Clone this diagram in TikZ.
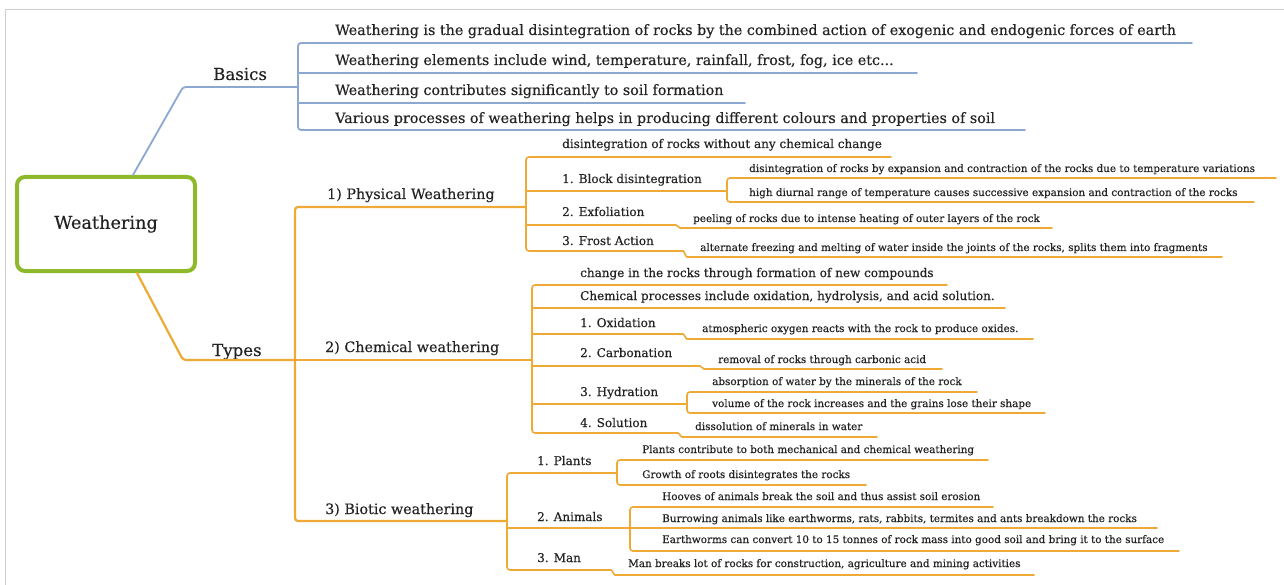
\documentclass[tikz,border=0pt]{standalone}
\usepackage{fontspec}
\setmainfont{DejaVu Serif}[UprightFeatures={FakeBold=0.35}]
\definecolor{txtc}{RGB}{35,35,35}
\definecolor{bluec}{RGB}{140,168,210}
\definecolor{orgc}{RGB}{238,170,52}
\definecolor{greenc}{RGB}{141,185,42}
\definecolor{framec}{RGB}{205,205,205}
% one text item: name, font style, text x, baseline, line start x, line y, line end x, text
\newcommand\mmleaf[8]{%
  \node[txt,#2,anchor=base west] (#1) at (#3,#4) {#8};%
  \coordinate (#1-s) at (#5,#6);%
  \coordinate (#1-e) at (#7,#6);}
\begin{document}
\begin{tikzpicture}[x=1pt,y=-1pt,
  txt/.style={inner sep=0pt,text=txtc},
  fR/.style={font=\fontsize{17.7}{20}\selectfont},
  fL/.style={font=\fontsize{16.6}{20}\selectfont},
  fA/.style={font=\fontsize{14.3}{16}\selectfont},
  fB/.style={font=\fontsize{12}{14}\selectfont},
  fC/.style={font=\fontsize{10.4}{12}\selectfont},
  blu/.style={draw=bluec,line width=1.8pt,rounded corners=3pt,line cap=round},
  bluthin/.style={draw=bluec,line width=1.5pt,line cap=round},
  org/.style={draw=orgc,line width=2.2pt,rounded corners=3pt,line cap=round},
  orl/.style={draw=orgc,line width=1.6pt,rounded corners=3pt,line cap=round},
  rootbox/.style={draw=greenc,line width=4pt,rounded corners=8pt,
    minimum width=178pt,minimum height=94pt,inner sep=0pt,text=txtc}]
\useasboundingbox (0,0) rectangle (1284,585);
\fill[white] (0,0) rectangle (1284,585);
% outer frame
\coordinate (fa) at (5,585);
\coordinate (fb) at (5,10);
\coordinate (fc) at (1284,10);
\draw[framec,line width=1pt] (fa) -- (fb) -- (fc);

% central topic
\node[rootbox,fR] (root) at (106,224) {Weathering};

% ---------------- Basics ----------------
\coordinate (rt) at (133,175);
\coordinate (bk) at (183,87);
\coordinate (bj) at (298,87);
\node[txt,fL,anchor=base west] (basics) at (213,80) {Basics};
\draw[blu] (rt) -- (bk) -- (bj);
\mmleaf{b1}{fA}{335}{35}{298}{43}{1192}{Weathering is the gradual disintegration of rocks by the combined action of exogenic and endogenic forces of earth}
\mmleaf{b2}{fA}{335}{65}{298}{73}{917}{Weathering elements include wind, temperature, rainfall, frost, fog, ice etc...}
\mmleaf{b3}{fA}{335}{95}{298}{103}{745}{Weathering contributes significantly to soil formation}
\mmleaf{b4}{fA}{335}{123}{298}{130}{1025}{Various processes of weathering helps in producing different colours and properties of soil}
\draw[blu] (b1-e) -- (b1-s) -- (b4-s) -- (b4-e);
\draw[bluthin] (b2-s) -- (b2-e);
\draw[bluthin] (b3-s) -- (b3-e);

% ---------------- Types ----------------
\coordinate (rb) at (137,273);
\coordinate (tk) at (183,360);
\coordinate (tj) at (295,360);
\node[txt,fL,anchor=base west] (types) at (212,356) {Types};
\draw[org] (rb) -- (tk) -- (tj);
\mmleaf{phys}{fA}{327}{199}{295}{207}{526}{1) Physical Weathering}
\mmleaf{chem}{fA}{325}{352}{295}{360}{532}{2) Chemical weathering}
\mmleaf{bio}{fA}{325}{514}{295}{521}{507}{3) Biotic weathering}
\draw[org] (phys-e) -- (phys-s) -- (bio-s) -- (bio-e);
\draw[org] (chem-s) -- (chem-e);

% physical weathering
\mmleaf{p0}{fB}{562}{148}{526}{157}{891}{disintegration of rocks without any chemical change}
\mmleaf{p1}{fB}{562}{183}{526}{191}{727}{1. Block disintegration}
\mmleaf{p2}{fB}{562}{216}{526}{225}{673}{2. Exfoliation}
\mmleaf{p3}{fB}{562}{245}{526}{251}{680}{3. Frost Action}
\mmleaf{p1a}{fC}{749}{172}{727}{178}{1276}{disintegration of rocks by expansion and contraction of the rocks due to temperature variations}
\mmleaf{p1b}{fC}{749}{196}{727}{202}{1254}{high diurnal range of temperature causes successive expansion and contraction of the rocks}
\mmleaf{p2a}{fC}{693}{222}{683}{228}{1052}{peeling of rocks due to intense heating of outer layers of the rock}
\mmleaf{p3a}{fC}{700}{251}{690}{257}{1222}{alternate freezing and melting of water inside the joints of the rocks, splits them into fragments}
\draw[orl] (p0-e) -- (p0-s) -- (p3-s) -- (p3-e) to[out=0,in=180] (p3a-s) -- (p3a-e);
\draw[orl] (p1-s) -- (p1-e);
\draw[orl] (p1a-e) -- (p1a-s) -- (p1b-s) -- (p1b-e);
\draw[orl] (p2-s) -- (p2-e) to[out=0,in=180] (p2a-s) -- (p2a-e);

% chemical weathering
\mmleaf{c0}{fB}{580}{277}{532}{285}{947}{change in the rocks through formation of new compounds}
\mmleaf{c1}{fB}{580}{300}{532}{308}{1005}{Chemical processes include oxidation, hydrolysis, and acid solution.}
\mmleaf{c2}{fB}{580}{327}{532}{334}{680}{1. Oxidation}
\mmleaf{c3}{fB}{580}{357}{532}{366}{697}{2. Carbonation}
\mmleaf{c4}{fB}{580}{396}{532}{404}{687}{3. Hydration}
\mmleaf{c5}{fB}{580}{427}{532}{433}{675}{4. Solution}
\mmleaf{c2a}{fC}{702}{332}{690}{339}{1033}{atmospheric oxygen reacts with the rock to produce oxides.}
\mmleaf{c3a}{fC}{718}{363}{707}{369}{942}{removal of rocks through carbonic acid}
\mmleaf{c4a}{fC}{712}{385}{687}{392}{977}{absorption of water by the minerals of the rock}
\mmleaf{c4b}{fC}{712}{407}{687}{413}{1045}{volume of the rock increases and the grains lose their shape}
\mmleaf{c5a}{fC}{695}{430}{685}{437}{877}{dissolution of minerals in water}
\draw[orl] (c0-e) -- (c0-s) -- (c5-s) -- (c5-e) to[out=0,in=180] (c5a-s) -- (c5a-e);
\draw[orl] (c1-s) -- (c1-e);
\draw[orl] (c2-s) -- (c2-e) to[out=0,in=180] (c2a-s) -- (c2a-e);
\draw[orl] (c3-s) -- (c3-e) to[out=0,in=180] (c3a-s) -- (c3a-e);
\draw[orl] (c4-s) -- (c4-e);
\draw[orl] (c4a-e) -- (c4a-s) -- (c4b-s) -- (c4b-e);

% biotic weathering
\mmleaf{t1}{fB}{537}{465}{507}{473}{617}{1. Plants}
\mmleaf{t2}{fB}{537}{521}{507}{528}{630}{2. Animals}
\mmleaf{t3}{fB}{537}{562}{507}{570}{608}{3. Man}
\mmleaf{t1a}{fC}{642}{453}{617}{460}{988}{Plants contribute to both mechanical and chemical weathering}
\mmleaf{t1b}{fC}{642}{478}{617}{485}{866}{Growth of roots disintegrates the rocks}
\mmleaf{t2a}{fC}{662}{500}{630}{507}{993}{Hooves of animals break the soil and thus assist soil erosion}
\mmleaf{t2b}{fC}{662}{522}{630}{528}{1157}{Burrowing animals like earthworms, rats, rabbits, termites and ants breakdown the rocks}
\mmleaf{t2c}{fC}{662}{543}{630}{551}{1179}{Earthworms can convert 10 to 15 tonnes of rock mass into good soil and bring it to the surface}
\mmleaf{t3a}{fC}{628}{567}{618}{575}{1034}{Man breaks lot of rocks for construction, agriculture and mining activities}
\draw[orl] (t1-e) -- (t1-s) -- (t3-s) -- (t3-e) to[out=0,in=180] (t3a-s) -- (t3a-e);
\draw[orl] (t2-s) -- (t2-e);
\draw[orl] (t1a-e) -- (t1a-s) -- (t1b-s) -- (t1b-e);
\draw[orl] (t2a-e) -- (t2a-s) -- (t2c-s) -- (t2c-e);
\draw[orl] (t2b-s) -- (t2b-e);
\end{tikzpicture}
\end{document}
